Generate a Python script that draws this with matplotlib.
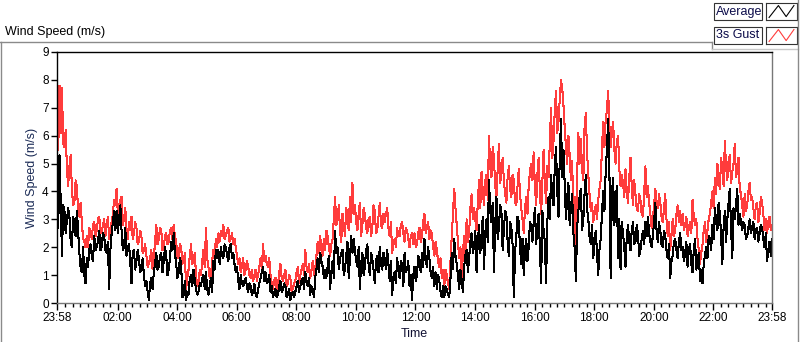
import numpy as np
import matplotlib
matplotlib.use("Agg")
import matplotlib.pyplot as plt
from matplotlib.lines import Line2D
from matplotlib.patches import Rectangle

# ---- data (m/s) ----
# samples on the 5-minute grid from 23:58 to 23:58
gust_on = [
    6.4, 7.8, 7.7, 5.6, 4.8, 4.9, 4.1, 3.6, 4.2, 3.1, 2.9, 2.2,
    2.4, 2.7, 2.3, 2.9, 2.6, 3.1, 2.5, 3.0, 2.8, 2.3, 2.9, 3.7,
    4.1, 3.5, 3.8, 3.0, 2.6, 2.9, 3.1, 2.5, 2.7, 2.2, 2.4, 1.9,
    1.7, 1.4, 1.9, 1.6, 2.8, 2.3, 2.6, 2.0, 2.5, 2.2, 2.7, 2.8,
    2.2, 1.7, 2.0, 1.5, 0.5, 1.2, 2.1, 1.5, 1.0, 0.7, 1.0, 1.9,
    2.7, 1.3, 1.0, 1.9, 2.3, 2.5, 2.6, 2.8, 2.4, 2.7, 2.3, 2.1,
    2.0, 1.4, 1.1, 1.6, 1.2, 1.3, 0.9, 0.8, 1.2, 1.0, 1.6, 2.1,
    1.7, 1.3, 1.0, 0.5, 0.9, 0.6, 1.4, 0.8, 1.2, 0.7, 0.9, 0.5,
    0.8, 1.3, 1.0, 1.4, 1.9, 1.1, 0.9, 1.5, 1.2, 2.2, 2.4, 1.7,
    1.9, 2.4, 1.7, 2.3, 3.8, 3.0, 2.6, 3.2, 2.4, 3.1, 3.8, 4.3,
    3.5, 2.6, 3.6, 2.8, 3.2, 2.5, 3.1, 2.7, 3.3, 2.6, 3.6, 2.7,
    2.9, 3.4, 2.4, 1.8, 2.3, 2.7, 2.4, 2.9, 2.2, 2.6, 2.0, 2.5,
    2.5, 2.1, 2.7, 2.4, 3.2, 2.7, 2.3, 2.5, 1.7, 1.9, 1.3, 0.9,
    0.6, 1.0, 0.5, 2.4, 4.1, 2.8, 1.6, 0.9, 2.4, 3.0, 2.5, 3.9,
    3.4, 2.6, 4.4, 4.7, 3.5, 4.6, 6.0, 4.5, 5.2, 3.8, 5.7, 4.6,
    4.4, 3.6, 4.9, 3.8, 4.4, 3.5, 4.8, 3.4, 2.5, 3.8, 4.2, 5.0,
    5.4, 3.5, 5.2, 3.2, 5.5, 3.6, 4.5, 7.0, 5.8, 7.6, 6.5, 8.0,
    7.1, 5.6, 6.0, 4.4, 3.2, 2.0, 6.1, 5.9, 4.4, 6.8, 4.6, 3.3,
    2.9, 3.5, 3.7, 4.4, 6.5, 6.6, 7.6, 5.6, 6.5, 5.0, 6.0, 4.2,
    4.3, 4.8, 3.6, 5.2, 3.5, 3.9, 3.3, 3.7, 3.1, 4.9, 4.2, 3.2,
    3.0, 4.1, 3.4, 3.6, 2.9, 3.9, 2.4, 1.9, 3.0, 2.6, 3.5, 3.3,
    3.2, 2.8, 2.4, 2.9, 3.7, 2.8, 2.3, 1.4, 2.1, 2.9, 2.6, 3.2,
    4.0, 4.5, 5.0, 4.1, 4.8, 5.8, 4.4, 5.3, 4.7, 5.7, 4.8, 4.1,
    3.5, 3.9, 3.5, 4.3, 3.8, 3.0, 3.6, 3.2, 3.6, 2.6, 2.5, 3.1,
    2.8,
]
# samples half-way between the 5-minute grid points
gust_mid = [
    5.5, 6.1, 5.7, 6.2, 4.2, 5.3, 3.5, 4.4, 3.3, 3.6, 2.3, 2.0,
    2.0, 2.5, 2.8, 2.4, 3.0, 2.6, 2.8, 2.4, 3.1, 2.6, 3.2, 3.5,
    3.2, 3.7, 2.8, 3.4, 2.3, 2.6, 2.3, 2.9, 2.1, 2.6, 1.8, 2.1,
    1.3, 1.6, 1.2, 2.2, 2.1, 2.7, 1.9, 2.4, 2.1, 2.6, 2.3, 2.4,
    1.6, 2.1, 1.4, 1.8, 0.9, 1.7, 1.4, 1.8, 0.6, 1.2, 1.5, 1.3,
    1.6, 0.9, 1.5, 1.7, 2.0, 2.2, 2.4, 2.3, 2.6, 2.2, 2.5, 2.3,
    1.7, 1.6, 1.3, 1.0, 1.5, 1.0, 1.2, 1.0, 0.8, 1.3, 1.2, 1.5,
    1.4, 1.6, 0.7, 0.8, 0.5, 1.1, 0.9, 1.0, 0.6, 1.0, 0.4, 0.7,
    1.1, 0.7, 1.2, 1.0, 1.3, 1.4, 1.2, 1.0, 1.7, 1.8, 1.9, 2.3,
    2.6, 2.0, 2.1, 3.0, 2.8, 3.5, 2.2, 2.8, 3.4, 2.6, 2.9, 3.2,
    2.9, 3.2, 2.4, 3.4, 2.7, 3.0, 2.4, 3.5, 2.5, 3.1, 2.8, 3.2,
    3.2, 2.7, 2.9, 2.1, 2.0, 2.4, 2.8, 2.5, 2.7, 2.3, 2.4, 2.1,
    2.0, 2.5, 2.2, 2.9, 2.5, 2.9, 2.6, 2.0, 2.2, 1.5, 1.6, 1.2,
    1.2, 0.7, 1.5, 3.2, 3.4, 2.2, 2.0, 1.8, 1.6, 2.2, 3.4, 3.0,
    3.0, 3.6, 3.4, 4.0, 4.4, 3.7, 4.9, 5.6, 4.2, 4.8, 4.3, 5.2,
    3.9, 4.5, 4.1, 4.6, 3.6, 4.2, 3.9, 3.0, 3.4, 3.2, 4.7, 4.4,
    4.2, 4.6, 4.0, 4.4, 4.3, 4.9, 5.7, 5.2, 6.9, 6.1, 7.3, 7.7,
    6.3, 5.0, 5.3, 5.1, 3.8, 4.5, 5.0, 4.8, 6.3, 5.4, 3.9, 3.6,
    3.3, 3.0, 4.1, 5.5, 5.6, 6.9, 6.4, 6.1, 5.5, 5.8, 4.8, 4.6,
    3.8, 4.0, 4.5, 4.2, 4.4, 3.4, 3.9, 3.2, 3.9, 3.8, 3.6, 2.7,
    3.5, 3.6, 3.9, 3.1, 3.4, 3.0, 2.9, 2.4, 2.4, 3.2, 2.9, 2.8,
    2.6, 3.1, 2.7, 2.5, 3.1, 3.0, 1.9, 1.8, 2.6, 2.2, 3.0, 3.6,
    3.4, 3.9, 4.4, 5.2, 4.2, 4.9, 5.1, 4.3, 5.0, 4.5, 5.2, 3.9,
    3.1, 3.3, 4.0, 3.7, 3.4, 3.5, 2.9, 3.8, 3.2, 3.0, 2.9, 2.6,
]

avg_on = [
    4.5, 5.3, 1.7, 3.3, 3.0, 3.1, 2.0, 2.8, 3.3, 1.8, 1.1, 1.0,
    1.6, 1.9, 1.7, 2.4, 2.0, 2.6, 2.0, 2.4, 1.8, 0.5, 2.5, 3.3,
    3.3, 3.0, 2.6, 2.0, 1.7, 2.1, 0.7, 1.9, 1.5, 1.6, 1.2, 1.0,
    0.8, 0.1, 0.9, 1.1, 1.8, 1.3, 1.8, 1.5, 1.7, 1.2, 2.2, 2.5,
    1.4, 1.1, 1.4, 0.3, 0.1, 0.3, 1.0, 1.2, 0.5, 0.4, 0.6, 1.0,
    1.1, 0.3, 0.9, 1.5, 1.9, 1.9, 2.0, 1.6, 2.0, 1.5, 2.1, 1.8,
    1.1, 0.8, 1.0, 0.6, 0.9, 0.4, 0.6, 0.4, 0.3, 0.5, 0.9, 1.3,
    1.1, 0.8, 0.4, 0.2, 0.5, 0.3, 0.8, 0.5, 0.6, 0.3, 0.1, 0.4,
    0.4, 0.8, 0.6, 0.9, 1.1, 0.6, 0.3, 0.5, 0.9, 1.6, 1.8, 1.3,
    1.2, 1.3, 0.5, 1.5, 2.6, 2.0, 1.6, 1.9, 1.2, 2.2, 1.6, 1.8,
    1.9, 1.3, 0.5, 1.8, 1.3, 2.1, 1.0, 1.6, 0.7, 1.7, 2.0, 1.2,
    1.6, 1.9, 0.8, 0.3, 1.1, 1.6, 0.9, 1.4, 1.8, 1.2, 0.6, 0.1,
    1.3, 1.0, 1.5, 1.8, 2.3, 1.3, 1.6, 0.9, 0.6, 0.5, 0.8, 0.2,
    0.2, 0.5, 0.2, 1.8, 2.3, 1.4, 0.5, 0.8, 1.3, 1.9, 1.6, 2.5,
    2.0, 1.1, 2.8, 2.4, 1.2, 3.0, 4.4, 2.9, 1.1, 3.8, 2.7, 3.3,
    2.6, 3.2, 1.7, 2.7, 0.2, 2.4, 2.9, 1.4, 1.0, 2.3, 2.0, 2.8,
    2.9, 2.1, 3.2, 0.7, 2.6, 0.7, 3.8, 4.6, 3.5, 5.6, 3.1, 6.6,
    5.5, 3.0, 4.3, 3.4, 2.5, 0.8, 3.3, 4.1, 3.0, 4.6, 3.0, 2.1,
    1.6, 2.6, 1.0, 2.3, 4.0, 4.7, 6.6, 0.9, 4.5, 3.6, 1.6, 1.2,
    2.5, 1.3, 2.8, 1.9, 2.9, 2.2, 2.5, 1.9, 2.6, 2.9, 3.1, 2.2,
    2.4, 3.6, 2.2, 2.6, 2.0, 2.4, 1.6, 0.9, 1.7, 2.3, 1.6, 2.5,
    2.0, 1.8, 1.3, 2.1, 1.1, 2.3, 1.5, 0.8, 0.7, 1.7, 1.6, 2.3,
    2.8, 3.4, 2.6, 3.2, 1.4, 3.3, 3.0, 4.1, 1.6, 3.0, 4.1, 3.2,
    2.6, 2.8, 2.4, 3.0, 2.7, 2.3, 2.7, 2.5, 2.7, 2.0, 1.5, 2.2,
    2.3,
]
avg_mid = [
    2.7, 3.6, 3.5, 2.5, 3.4, 2.2, 3.1, 2.4, 2.6, 1.3, 2.0, 0.7,
    1.3, 2.1, 1.5, 1.9, 2.2, 1.9, 2.5, 1.9, 2.2, 1.9, 2.9, 2.6,
    2.5, 3.5, 1.9, 2.7, 2.0, 1.5, 1.8, 1.2, 1.9, 1.1, 1.6, 0.6,
    0.4, 0.7, 0.5, 1.4, 1.2, 1.7, 1.1, 2.0, 1.0, 1.6, 1.9, 1.8,
    0.9, 1.6, 0.2, 0.8, 0.4, 0.9, 0.6, 0.8, 0.3, 0.7, 0.9, 0.5,
    0.5, 0.6, 0.4, 1.2, 1.6, 1.4, 1.7, 2.1, 1.7, 2.0, 1.6, 1.4,
    1.3, 0.5, 0.7, 0.8, 0.6, 0.7, 0.3, 0.7, 0.2, 0.7, 1.1, 0.8,
    0.7, 1.0, 0.6, 0.4, 0.2, 0.6, 0.4, 0.7, 0.2, 0.5, 0.3, 0.2,
    0.6, 0.4, 0.8, 0.5, 0.8, 0.9, 0.6, 0.2, 1.2, 1.1, 1.5, 0.9,
    0.9, 1.7, 1.1, 0.9, 1.8, 1.2, 1.8, 1.0, 1.7, 0.9, 2.4, 2.3,
    1.5, 2.0, 1.4, 1.0, 1.9, 1.4, 1.8, 1.2, 1.5, 1.1, 1.4, 1.8,
    1.2, 1.4, 1.5, 0.9, 0.7, 1.2, 1.5, 0.6, 1.1, 1.5, 1.0, 1.0,
    0.8, 1.7, 1.1, 1.3, 1.6, 2.0, 1.1, 1.3, 1.1, 1.0, 0.4, 0.6,
    0.6, 0.3, 0.9, 1.2, 1.7, 1.0, 1.2, 0.4, 1.7, 1.1, 2.2, 1.8,
    2.6, 2.2, 1.8, 3.1, 2.5, 2.2, 3.3, 3.6, 2.8, 2.3, 3.5, 1.9,
    3.3, 2.2, 2.9, 2.1, 1.8, 3.1, 2.0, 2.3, 1.9, 1.5, 2.9, 2.2,
    3.4, 2.8, 2.0, 3.3, 2.2, 2.9, 3.0, 3.8, 4.9, 4.0, 5.2, 4.5,
    4.2, 3.8, 2.8, 3.9, 2.0, 2.7, 3.8, 2.6, 3.9, 3.4, 2.4, 2.8,
    2.2, 1.8, 1.9, 3.2, 3.3, 5.5, 4.8, 3.9, 2.8, 4.2, 3.0, 2.9,
    2.0, 2.4, 2.2, 2.6, 2.1, 2.8, 1.7, 2.3, 2.1, 2.4, 2.5, 2.0,
    2.9, 2.6, 2.9, 2.1, 2.6, 1.9, 2.1, 1.5, 2.2, 1.9, 2.2, 1.9,
    1.5, 2.2, 1.9, 1.4, 1.9, 1.2, 1.8, 1.2, 1.4, 2.0, 2.4, 1.9,
    2.3, 2.9, 3.6, 2.4, 2.7, 2.2, 3.6, 2.7, 3.4, 3.5, 2.8, 2.9,
    2.9, 2.3, 2.7, 2.5, 2.9, 2.6, 2.2, 2.8, 2.3, 2.5, 1.9, 1.7,
]

step_minutes = 2.5
tick_labels = ["23:58", "02:00", "04:00", "06:00", "08:00", "10:00", "12:00",
               "14:00", "16:00", "18:00", "20:00", "22:00", "23:58"]
y_ticks = [0, 1, 2, 3, 4, 5, 6, 7, 8, 9]


def merge(on, mid):
    out = []
    for a, b in zip(on[:-1], mid):
        out += [a, b]
    out.append(on[-1])
    return out


gust = merge(gust_on, gust_mid)
average = merge(avg_on, avg_mid)

# ---- figure ----
W, H = 800, 342
fig = plt.figure(figsize=(W / 100, H / 100), dpi=100)
fig.patch.set_facecolor("white")
plt.rcParams["font.family"] = ["Liberation Sans", "DejaVu Sans"]


def fx(px):
    return px / W


def fy(py):
    return 1 - py / H


ax = fig.add_axes([fx(57), fy(303), fx(772) - fx(57), fy(52) - fy(303)])

t = np.arange(len(gust)) * step_minutes
ax.plot(t, gust, color="#ff3c3c", lw=0.75, antialiased=False)
ax.plot(t, average, color="black", lw=0.75, antialiased=False)

total = t[-1]
ax.set_xlim(0, total)
ax.set_ylim(0, 9)

major = [0] + [122 + 120 * k for k in range(11)] + [total]
ax.set_xticks(major)
ax.set_xticklabels(tick_labels)
minor = [m for m in range(2, int(total), 15) if all(abs(m - M) > 4 for M in major)]
ax.set_xticks(minor, minor=True)
ax.set_yticks(y_ticks)
ax.tick_params(axis="x", which="major", length=5, width=1, direction="out",
               labelsize=8.5, pad=1.5, color="black")
ax.tick_params(axis="x", which="minor", length=3, width=1, direction="out",
               color="black")
ax.tick_params(axis="y", which="major", length=4, width=1, direction="out",
               labelsize=8.5, pad=2, color="black")

for s in ["left", "top"]:
    ax.spines[s].set_color("black")
    ax.spines[s].set_linewidth(1)
for s in ["right", "bottom"]:
    ax.spines[s].set_color("#777777")
    ax.spines[s].set_linewidth(1)

ax.set_xlabel("Time", fontsize=9, labelpad=3, color="#111133")
ax.set_ylabel("Wind Speed (m/s)", fontsize=9, labelpad=3, color="#1a2a55")

# ---- outer frame and title ----
gray = "#8a8a8a"


def fline(x0, y0, x1, y1, c=gray, lw=1.0):
    fig.add_artist(Line2D([fx(x0), fx(x1)], [fy(y0), fy(y1)], color=c, lw=lw,
                          transform=fig.transFigure))


fline(0.5, 42, 0.5, 342)
fline(0, 42, 712, 42)
fline(712, 42, 712, 49)
fline(712, 49, 798, 49, c="#c8c8c8")
fline(798, 0, 798, 342)

fig.text(fx(5), fy(32), "Wind Speed (m/s)", fontsize=9, va="center",
         ha="left", color="black")

# ---- legend (LabVIEW plot legend) ----
names = ["Average", "3s Gust"]
colors = ["black", "#ff3c3c"]
for i, (nm, c) in enumerate(zip(names, colors)):
    top = 3 + i * 24
    fig.add_artist(Rectangle((fx(714), fy(top + 17)), fx(48), 17 / H,
                             transform=fig.transFigure, fill=False,
                             ec="#333333", lw=0.8))
    fig.text(fx(716), fy(top + 8.5), nm, fontsize=9, va="center",
             ha="left", color="#0b0b4a")
    iax = fig.add_axes([fx(766), fy(top + 17), fx(31), 17 / H])
    iax.set_xlim(0, 1)
    iax.set_ylim(0, 1)
    iax.set_xticks([])
    iax.set_yticks([])
    for s in iax.spines.values():
        s.set_color("#333333")
        s.set_linewidth(0.8)
    iax.plot([0.1, 0.4, 0.65, 0.9], [0.15, 0.85, 0.2, 0.85], color=c, lw=0.8)

fig.savefig("out.png", dpi=100, facecolor="white")
